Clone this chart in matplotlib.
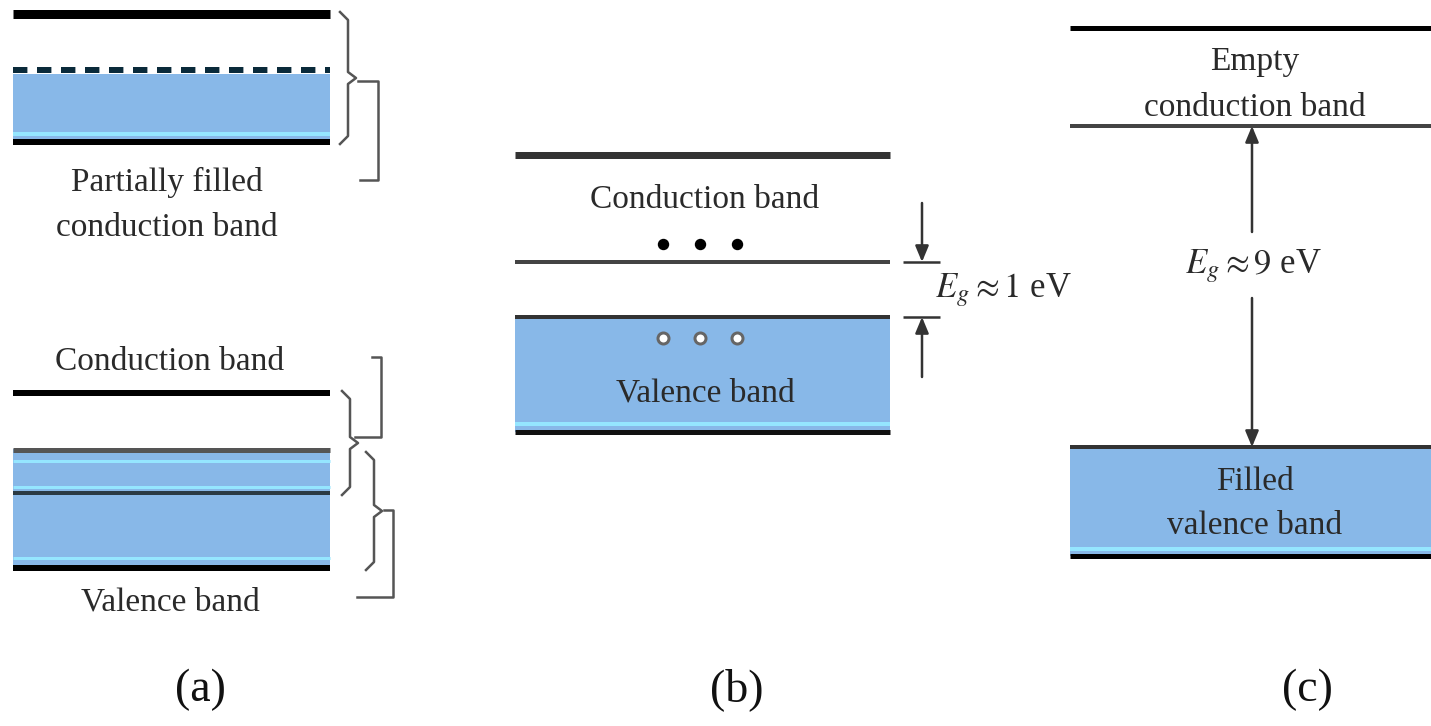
import matplotlib
matplotlib.use('Agg')
import matplotlib.pyplot as plt
from matplotlib.patches import Rectangle

plt.rcParams['font.family'] = ['Liberation Serif', 'DejaVu Serif']
plt.rcParams['mathtext.fontset'] = 'stix'

# the diagram is laid out in image rows / columns (y grows downwards)
W, H = 1431, 726

panel_labels = ['(a)', '(b)', '(c)']
panel_label_x = [200, 737, 1307]

# panel (a): metals
a_x = [13, 330]
a_up_lines = [14, 142]          # solid edges of the partially filled band
a_up_dashed = 70                # fermi level (dashed)
a_up_fill = [74, 140]
a_up_cyan = [134]
a_low_cb = 393                  # conduction band line
a_low_fill = [449, 566]
a_low_lines = [450, 493, 568]
a_low_cyan = [461, 487, 558]

# panel (b): semiconductor
b_x = [515, 890]
b_cb = [155, 262]
b_vb = [317, 432]
b_vb_cyan = [424]
b_carriers_x = [663, 700, 737]
b_electron_y = 244
b_hole_y = 338
b_gap = '$E_g \\approx 1$ eV'

# panel (c): insulator
c_x = [1070, 1431]
c_cb = [28, 126]
c_vb = [447, 556]
c_vb_cyan = [549]
c_gap = '$E_g \\approx 9$ eV'

blue = '#88b8e8'
cyan = '#95e6ff'
txt = '#2a2a2a'


def px(p):
    return p * 72 / 100


def band(ax, x, y0, y1, cyan_rows, top_col='#333333', bot_col='#111111'):
    ax.add_patch(Rectangle((x[0], y0), x[1] - x[0], y1 - y0, color=blue, lw=0))
    for r in cyan_rows:
        ax.hlines(r, x[0], x[1], color=cyan, lw=px(4))
    ax.hlines(y0, x[0], x[1], color=top_col, lw=px(4))
    ax.hlines(y1, x[0], x[1], color=bot_col, lw=px(5))


def brace(ax, x, y0, y1, d=8):
    ym = (y0 + y1) / 2
    ax.plot([x - d, x, x, x + d, x, x, x - d],
            [y0 - 2, y0 + 6, ym - 6, ym, ym + 6, y1 - 6, y1 + 2],
            color='#555555', lw=px(2.5))


def bracket(ax, x, y0, y1, l0, l1):
    ax.plot([x - l0, x, x, x - l1], [y0, y0, y1, y1], color='#555555', lw=px(2.5))


def arrow(ax, x, ys, ye):
    ax.annotate('', xy=(x, ye), xytext=(x, ys),
                arrowprops=dict(arrowstyle='-|>,head_length=0.6,head_width=0.25',
                                color='#333333', lw=px(2.5), shrinkA=0, shrinkB=0,
                                mutation_scale=16))


fig = plt.figure(figsize=(W / 100, H / 100), dpi=100)
ax = fig.add_axes([0, 0, 1, 1])
ax.set_xlim(0, W)
ax.set_ylim(H, 0)
ax.axis('off')

# ---- (a)
ax.add_patch(Rectangle((a_x[0], a_up_fill[0]), a_x[1] - a_x[0],
                       a_up_fill[1] - a_up_fill[0], color=blue, lw=0))
for r in a_up_cyan:
    ax.hlines(r, a_x[0], a_x[1], color=cyan, lw=px(4))
ax.hlines(a_up_lines[0], a_x[0], a_x[1], color='black', lw=px(9))
ax.hlines(a_up_lines[1], a_x[0], a_x[1], color='black', lw=px(6))
ax.hlines(a_up_dashed, a_x[0], a_x[1], color='#0a2a3a', lw=px(6),
          linestyles=(0, (2.4, 1.6)))
ax.text(167, 182, 'Partially filled', ha='center', va='center', fontsize=24, color=txt)
ax.text(167, 228, 'conduction band', ha='center', va='center', fontsize=24, color=txt)
brace(ax, 348, a_up_lines[0], a_up_lines[1])
bracket(ax, 378, 81, 180, 20, 18)

ax.text(170, 362, 'Conduction band', ha='center', va='center', fontsize=24, color=txt)
ax.hlines(a_low_cb, a_x[0], a_x[1], color='black', lw=px(6))
ax.add_patch(Rectangle((a_x[0], a_low_fill[0]), a_x[1] - a_x[0],
                       a_low_fill[1] - a_low_fill[0], color=blue, lw=0))
for r in a_low_cyan:
    ax.hlines(r, a_x[0], a_x[1], color=cyan, lw=px(3))
ax.hlines(a_low_lines[0], a_x[0], a_x[1], color='#555555', lw=px(5))
ax.hlines(a_low_lines[1], a_x[0], a_x[1], color='#2a3a44', lw=px(4))
ax.hlines(a_low_lines[2], a_x[0], a_x[1], color='black', lw=px(6))
ax.text(170, 602, 'Valence band', ha='center', va='center', fontsize=24, color=txt)
bracket(ax, 381, 357, 437, 9, 26)
brace(ax, 350, a_low_cb, a_low_lines[1])
brace(ax, 374, a_low_lines[0] + 4, a_low_lines[2])
bracket(ax, 393, 510, 597, 9, 36)

# ---- (b)
ax.hlines(b_cb[0], b_x[0], b_x[1], color='#333333', lw=px(7))
ax.text(705, 200, 'Conduction band', ha='center', va='center', fontsize=24, color=txt)
ax.plot(b_carriers_x, [b_electron_y] * 3, 'o', color='black', ms=px(10), lw=0)
ax.hlines(b_cb[1], b_x[0], b_x[1], color='#444444', lw=px(4))
band(ax, b_x, b_vb[0], b_vb[1], b_vb_cyan)
ax.plot(b_carriers_x, [b_hole_y] * 3, 'o', mfc='white', mec='#666666',
        mew=px(3), ms=px(11), lw=0)
ax.text(705, 393, 'Valence band', ha='center', va='center', fontsize=24, color=txt)
ax.hlines([b_cb[1], b_vb[0]], 903, 940, color='#333333', lw=px(2.5))
arrow(ax, 922, 203, b_cb[1])
arrow(ax, 922, 377, b_vb[0])
ax.text(935, 290, b_gap, ha='left', va='center', fontsize=25, color=txt)

# ---- (c)
ax.hlines(c_cb[0], c_x[0], c_x[1], color='black', lw=px(5))
ax.text(1255, 62, 'Empty', ha='center', va='center', fontsize=24, color=txt)
ax.text(1255, 108, 'conduction band', ha='center', va='center', fontsize=24, color=txt)
ax.hlines(c_cb[1], c_x[0], c_x[1], color='#444444', lw=px(4))
band(ax, c_x, c_vb[0], c_vb[1], c_vb_cyan, bot_col='black')
arrow(ax, 1252, 232, c_cb[1])
arrow(ax, 1252, 298, c_vb[0])
ax.text(1253, 266, c_gap, ha='center', va='center', fontsize=25, color=txt)
ax.text(1255, 482, 'Filled', ha='center', va='center', fontsize=24, color=txt)
ax.text(1255, 526, 'valence band', ha='center', va='center', fontsize=24, color=txt)

for lab, x in zip(panel_labels, panel_label_x):
    ax.text(x, 690, lab, ha='center', va='center', fontsize=33, color='#111111')

fig.savefig('out.png', dpi=100)
